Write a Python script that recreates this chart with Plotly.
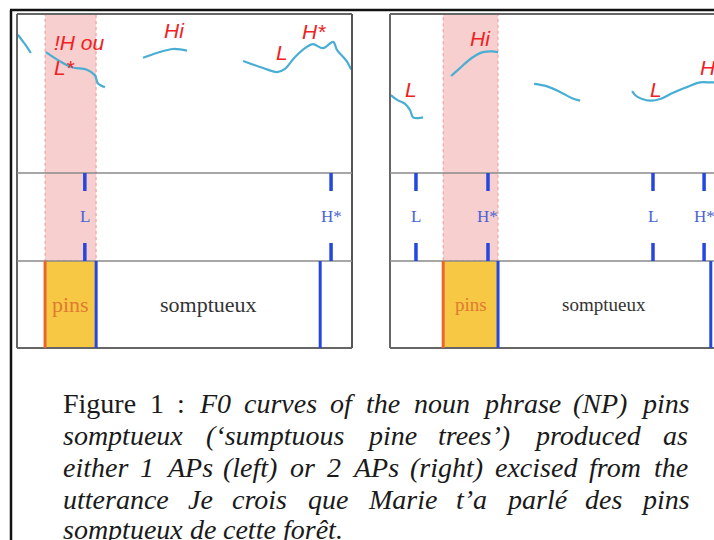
import plotly.graph_objects as go

W, H = 714, 540

# ---------------- data ----------------
# Left panel (1 AP): F0 contour segments, time (s) / F0 (Hz)
left_seg1_t = [0.002, 0.012, 0.022, 0.033]
left_seg1_f = [274, 267, 260, 251]
left_seg2_t = [0.069, 0.098, 0.131, 0.167, 0.186, 0.193, 0.210]
left_seg2_f = [252, 242, 233, 230, 223, 213, 208]
left_seg3_t = [0.301, 0.334, 0.373, 0.406]
left_seg3_f = [245, 251, 256, 254]
left_seg4_t = [0.540, 0.588, 0.621, 0.640, 0.664, 0.693, 0.707, 0.731, 0.755, 0.764, 0.779, 0.788, 0.798]
left_seg4_f = [241, 232, 227, 231, 246, 259, 262, 257, 265, 255, 246, 240, 230]

# Right panel (2 APs)
right_seg1_t = [0.002, 0.017, 0.036, 0.048, 0.055, 0.067, 0.079]
right_seg1_f = [198, 192, 187, 179, 170, 169, 170]
right_seg2_t = [0.146, 0.167, 0.196, 0.222, 0.244, 0.258]
right_seg2_f = [222, 232, 245, 252, 253, 252]
right_seg3_t = [0.344, 0.375, 0.406, 0.435, 0.454]
right_seg3_f = [212, 209, 202, 194, 191]
right_seg4_t = [0.578, 0.590, 0.621, 0.645, 0.676, 0.709, 0.740, 0.774, 0.800]
right_seg4_f = [203, 196, 191, 193, 201, 208, 214, 214, 217]

# Tone tier
left_tone_labels = ["L", "H*"]
left_tone_times = [0.162, 0.750]
right_tone_labels = ["L", "H*", "L", "H*"]
right_tone_times = [0.062, 0.234, 0.628, 0.750]

# Word tier
word_labels = ["pins", "somptueux"]
left_word_bounds = [0.067, 0.189, 0.724]
right_word_bounds = [0.127, 0.258, 0.766]

# Red ToBI annotations (text, x px, y px centre)
left_red = [("!H ou", 52, 43), ("L*", 52, 68), ("Hi", 162, 30), ("L", 274, 53), ("H*", 300, 32)]
right_red = [("L", 403, 90), ("Hi", 468, 38), ("L", 648, 90), ("H*", 698, 67)]

caption_lines = [
    "Figure 1 : F0 curves of the noun phrase (NP) pins",
    "somptueux (\u2018sumptuous pine trees\u2019) produced as",
    "either 1 APs (left) or 2 APs (right) excised from the",
    "utterance Je crois que Marie t\u2019a parl\u00e9 des pins",
    "somptueux de cette for\u00eat.",
]
caption_roman_words = 3  # "Figure 1 :" in upright type

# ---------------- helpers ----------------
def px(x):
    return x / W

def py(y):
    return 1 - y / H

TOP, T1, T2, BOT = 14, 173, 261, 348
L0, L1 = 17, 352
R0 = 390

CURVE = dict(color="rgb(72,174,212)", width=2.2, shape="spline")
BLUE = "#2447e0"
ORANGE = "#e8682c"

fig = go.Figure()

for t, f in [(left_seg1_t, left_seg1_f), (left_seg2_t, left_seg2_f),
             (left_seg3_t, left_seg3_f), (left_seg4_t, left_seg4_f)]:
    fig.add_trace(go.Scatter(x=t, y=f, mode="lines", line=CURVE, xaxis="x", yaxis="y",
                             hoverinfo="skip", showlegend=False))
for t, f in [(right_seg1_t, right_seg1_f), (right_seg2_t, right_seg2_f),
             (right_seg3_t, right_seg3_f), (right_seg4_t, right_seg4_f)]:
    fig.add_trace(go.Scatter(x=t, y=f, mode="lines", line=CURVE, xaxis="x2", yaxis="y2",
                             hoverinfo="skip", showlegend=False))

shapes = []
annotations = []

def panel(xref, bounds, tone_times, tone_labels, x_left, x_right, right_border, word_font):
    # pink highlight of "pins" over F0 + tone tiers
    shapes.append(dict(type="rect", xref=xref, yref="paper", x0=bounds[0], x1=bounds[1],
                       y0=py(T2), y1=py(TOP), fillcolor="rgba(242,175,175,0.6)",
                       line=dict(color="rgba(230,120,120,0.7)", width=1, dash="dot"), layer="below"))
    # yellow word box
    shapes.append(dict(type="rect", xref=xref, yref="paper", x0=bounds[0], x1=bounds[1],
                       y0=py(BOT), y1=py(T2), fillcolor="#f6c843", line=dict(width=0), layer="below"))
    # frame
    shapes.append(dict(type="line", xref="paper", yref="paper", x0=px(x_left), x1=px(x_right),
                       y0=py(TOP), y1=py(TOP), line=dict(color="#666", width=2)))
    shapes.append(dict(type="line", xref="paper", yref="paper", x0=px(x_left), x1=px(x_right),
                       y0=py(BOT), y1=py(BOT), line=dict(color="#666", width=2)))
    shapes.append(dict(type="line", xref="paper", yref="paper", x0=px(x_left), x1=px(x_left),
                       y0=py(BOT), y1=py(TOP), line=dict(color="#666", width=2)))
    if right_border:
        shapes.append(dict(type="line", xref="paper", yref="paper", x0=px(x_right), x1=px(x_right),
                           y0=py(BOT), y1=py(TOP), line=dict(color="#555", width=2)))
    for yy in (T1, T2):
        shapes.append(dict(type="line", xref="paper", yref="paper", x0=px(x_left), x1=px(x_right),
                           y0=py(yy), y1=py(yy), line=dict(color="#8a8a8a", width=1.5)))
    # word boundaries
    shapes.append(dict(type="line", xref=xref, yref="paper", x0=bounds[0], x1=bounds[0],
                       y0=py(BOT), y1=py(T2), line=dict(color=ORANGE, width=3)))
    for b in bounds[1:]:
        shapes.append(dict(type="line", xref=xref, yref="paper", x0=b, x1=b,
                           y0=py(BOT), y1=py(T2), line=dict(color=BLUE, width=3)))
    # tone ticks and labels
    for t, lab in zip(tone_times, tone_labels):
        for a, b in ((T1, T1 + 18), (T2 - 18, T2)):
            shapes.append(dict(type="line", xref=xref, yref="paper", x0=t, x1=t,
                               y0=py(b), y1=py(a), line=dict(color=BLUE, width=3.5)))
        annotations.append(dict(x=t, y=py(216), xref=xref, yref="paper", text=lab,
                                showarrow=False, xanchor="center", yanchor="middle",
                                font=dict(family="Liberation Serif", size=17, color="#4a63d6")))
    # word labels
    colors = ["#e07a32", "#333333"]
    for i, lab in enumerate(word_labels):
        annotations.append(dict(x=(bounds[i] + bounds[i + 1]) / 2, y=py(304), xref=xref, yref="paper",
                                text=lab, showarrow=False, xanchor="center", yanchor="middle",
                                font=dict(family="Liberation Serif", size=word_font, color=colors[i])))

panel("x", left_word_bounds, left_tone_times, left_tone_labels, L0, L1, True, 22)
panel("x2", right_word_bounds, right_tone_times, right_tone_labels, R0, W + 5, False, 19)

# outer black frame
shapes.append(dict(type="line", xref="paper", yref="paper", x0=px(10), x1=1.01, y0=py(10), y1=py(10),
                   line=dict(color="#111", width=2.5)))
shapes.append(dict(type="line", xref="paper", yref="paper", x0=px(11), x1=px(11), y0=py(10), y1=-0.01,
                   line=dict(color="#111", width=2.5)))

for txt, x, y in left_red + right_red:
    annotations.append(dict(x=px(x), y=py(y), xref="paper", yref="paper", text=txt, showarrow=False,
                            xanchor="left", yanchor="middle",
                            font=dict(family="Liberation Sans", size=21, color="#ee2222", style="italic")))

# ---------------- caption (justified) ----------------
ITALIC = dict(a=500, b=500, c=444, d=500, e=444, f=278, g=500, h=500, i=278, j=278, k=444, l=278,
              m=722, n=500, o=500, p=500, q=500, r=389, s=389, t=278, u=500, v=444, w=667, x=444,
              y=444, z=389, A=611, F=611, H=722, J=444, L=556, M=833, N=667, P=611, S=500)
ITALIC.update({"(": 333, ")": 333, "\u2018": 333, "\u2019": 333, ".": 250, ",": 250, ":": 333,
               "0": 500, "1": 500, "2": 500, "\u00e9": 444, "\u00ea": 444})
ROMAN = dict(F=556, i=278, g=500, u=500, r=333, e=444)
ROMAN.update({"1": 500, ":": 278})
CAP_SIZE = 28
CX0, CX1 = 62, 687
line_y = [403, 435, 467, 499, 529]

def wwidth(w, table):
    return sum(table.get(c, 500) for c in w) / 1000 * CAP_SIZE

for li, line in enumerate(caption_lines):
    words = line.split(" ")
    styles = ["normal" if (li == 0 and k < caption_roman_words) else "italic" for k in range(len(words))]
    widths = [wwidth(w, ROMAN if s == "normal" else ITALIC) for w, s in zip(words, styles)]
    if li < len(caption_lines) - 1:
        gap = (CX1 - CX0 - sum(widths)) / (len(words) - 1)
    else:
        gap = 0.25 * CAP_SIZE
    x = CX0
    for w, s, wd in zip(words, styles, widths):
        annotations.append(dict(x=px(x), y=py(line_y[li]), xref="paper", yref="paper", text=w,
                                showarrow=False, xanchor="left", yanchor="middle", borderpad=0,
                                font=dict(family="Liberation Serif", size=CAP_SIZE, color="#1a1a1a", style=s)))
        x += wd + gap

fig.update_layout(
    width=W, height=H, margin=dict(l=0, r=0, t=0, b=0),
    paper_bgcolor="white", plot_bgcolor="rgba(0,0,0,0)", showlegend=False,
    xaxis=dict(domain=[px(L0), px(L1)], range=[0, 0.8], visible=False, anchor="y"),
    yaxis=dict(domain=[py(T1), py(TOP)], range=[100, 300], visible=False, anchor="x"),
    xaxis2=dict(domain=[px(R0), 1.0], range=[0, 0.7737], visible=False, anchor="y2"),
    yaxis2=dict(domain=[py(T1), py(TOP)], range=[100, 300], visible=False, anchor="x2"),
    shapes=shapes, annotations=annotations,
)

fig.write_html("out.html", config={"displayModeBar": False})
